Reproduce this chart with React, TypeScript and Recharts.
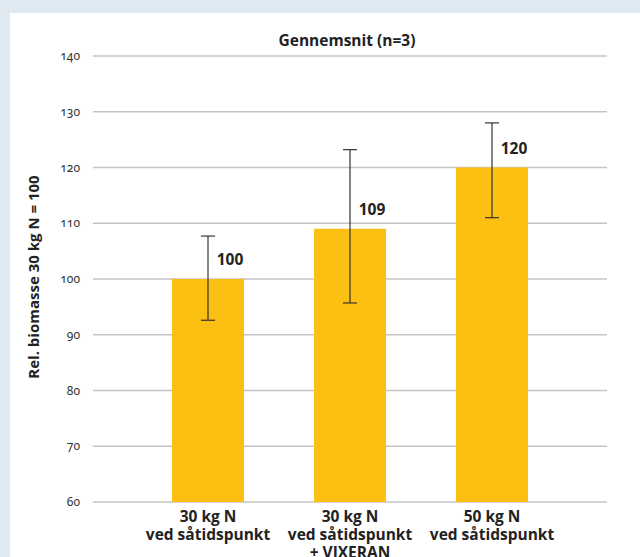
import React from "react";
import { BarChart, Bar, XAxis, YAxis, CartesianGrid, ErrorBar, LabelList } from "recharts";

const categories = ["A", "B", "C"];
const categoryLines = [
  ["30 kg N", "ved såtidspunkt"],
  ["30 kg N", "ved såtidspunkt", "+ VIXERAN"],
  ["50 kg N", "ved såtidspunkt"],
];
const values = [100, 109, 120];
const errLower = [7.4, 13.3, 9];
const errUpper = [7.7, 14.2, 8];
const yTicks = [60, 70, 80, 90, 100, 110, 120, 130, 140];
const title = "Gennemsnit (n=3)";
const yLabel = "Rel. biomasse 30 kg N = 100";

const data = categories.map((c, i) => ({
  cat: c,
  value: values[i],
  err: [errLower[i], errUpper[i]],
}));

const FONT = "'Open Sans', 'Noto Sans', sans-serif";

const XTick = (props: any) => {
  const { x, y, index } = props;
  const lines = categoryLines[index] || [];
  return (
    <text
      x={x}
      y={y}
      textAnchor="middle"
      fontFamily={FONT}
      fontWeight={700}
      fontSize={15.5}
      fill="#222"
    >
      {lines.map((l, i) => (
        <tspan key={i} x={x} y={y + 14 + i * 18}>
          {l}
        </tspan>
      ))}
    </text>
  );
};

const YTick = (props: any) => {
  const { x, y, payload } = props;
  return (
    <text
      x={x}
      y={y + 4}
      textAnchor="end"
      fontFamily="'Noto Sans', sans-serif"
      fontSize={12}
      fill="#333"
      style={{ fontVariantNumeric: "oldstyle-nums", fontFeatureSettings: '"onum" 1' }}
    >
      {payload.value}
    </text>
  );
};

const ValueLabel = (props: any) => {
  const { x, y, width, value } = props;
  return (
    <text
      x={x + width / 2 + 22}
      y={y - 14}
      textAnchor="middle"
      fontFamily={FONT}
      fontWeight={700}
      fontSize={15.5}
      fill="#222"
    >
      {value}
    </text>
  );
};

export default function App() {
  return (
    <div style={{ position: "absolute", left: 0, top: 0, width: 640, height: 557, background: "#dfe9f2", overflow: "hidden" }}>
      <div style={{ position: "absolute", left: 10, top: 13, width: 630, height: 544, background: "#ffffff" }} />
      <div
        style={{
          position: "absolute",
          left: 0,
          width: 694,
          top: 30,
          textAlign: "center",
          fontFamily: FONT,
          fontWeight: 700,
          fontSize: 15.5,
          color: "#222",
          lineHeight: "20px",
        }}
      >
        {title}
      </div>
      <div
        style={{
          position: "absolute",
          left: 33,
          top: 277,
          transform: "translate(-50%, -50%) rotate(-90deg)",
          whiteSpace: "nowrap",
          fontFamily: FONT,
          fontWeight: 700,
          fontSize: 15,
          color: "#222",
          lineHeight: "20px",
        }}
      >
        {yLabel}
      </div>
      <div style={{ position: "absolute", left: 0, top: 0 }}>
        <BarChart width={640} height={557} data={data} margin={{ top: 56, right: 33, bottom: 5, left: 33 }}>
          <CartesianGrid vertical={false} stroke="#c4c4c4" strokeWidth={1.5} />
          <XAxis
            dataKey="cat"
            height={50}
            axisLine={false}
            tickLine={false}
            tickMargin={0}
            padding={{ left: 44, right: 44 }}
            tick={<XTick />}
            interval={0}
          />
          <YAxis
            width={60}
            domain={[60, 140]}
            ticks={yTicks}
            axisLine={false}
            tickLine={false}
            tickMargin={7}
            tick={<YTick />}
            interval={0}
          />
          <Bar dataKey="value" fill="#fcc013" barSize={72} isAnimationActive={false}>
            <ErrorBar dataKey="err" width={7} stroke="#333" strokeWidth={1.2} />
            <LabelList dataKey="value" content={<ValueLabel />} />
          </Bar>
        </BarChart>
      </div>
    </div>
  );
}
